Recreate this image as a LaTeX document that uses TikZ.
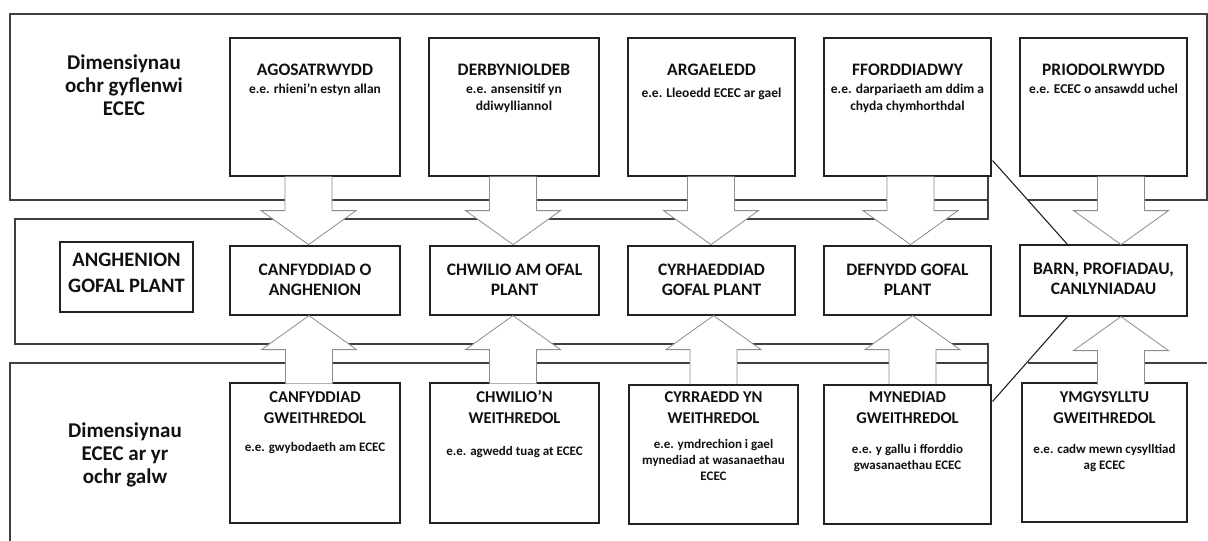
\documentclass[tikz,border=0pt]{standalone}
\usepackage{fontspec}
\setmainfont{Carlito}
\usetikzlibrary{calc}
\definecolor{txt}{HTML}{111111}
\definecolor{bandc}{HTML}{404040}
\definecolor{arrc}{HTML}{8C8C8C}
\definecolor{boxc}{HTML}{222222}
\begin{document}
\begin{tikzpicture}[x=1pt,y=-1pt,
  band/.style={draw=bandc, line width=1.1pt},
  box/.style={draw=boxc, line width=1.2pt, fill=white, inner sep=0pt},
  blockarrow/.style={draw=arrc, fill=white, line width=0.8pt},
  diag/.style={draw=boxc, line width=1.1pt},
  lab/.style={inner sep=0pt, text=txt, align=center, anchor=base, font=\fontsize{21pt}{23pt}\selectfont\bfseries},
  big/.style={inner sep=0pt, text=txt, align=center, anchor=base, font=\fontsize{20.5pt}{26pt}\selectfont\bfseries},
  ttl/.style={inner sep=0pt, text=txt, align=center, anchor=base, font=\fontsize{17.5pt}{20pt}\selectfont\bfseries},
  btl/.style={inner sep=0pt, text=txt, align=center, anchor=base, font=\fontsize{16.5pt}{21pt}\selectfont\bfseries},
  sub/.style={inner sep=0pt, text=txt, align=center, anchor=base, font=\fontsize{13.5pt}{17pt}\selectfont\bfseries},
  bsub/.style={inner sep=0pt, text=txt, align=center, anchor=base, font=\fontsize{13pt}{16pt}\selectfont\bfseries},
  pics/darr/.style={code={\draw[blockarrow] (-23.5,0) -- (-23.5,34) -- (-47.5,34) -- (0,68) -- (47.5,34) -- (23.5,34) -- (23.5,0);}},
  pics/uarr/.style={code={\draw[blockarrow] (-23.5,68) -- (-23.5,34) -- (-47.5,34) -- (0,0) -- (47.5,34) -- (23.5,34) -- (23.5,68);}}
]
\useasboundingbox (0,0) rectangle (1208,541);

% bands
\draw[band] (1028,200) -- (1207,200) -- (1207,14) -- (10,14) -- (10,200) -- (988,200);
\draw[band] (988,176) -- (988,219) -- (15,219) -- (15,344) -- (988,344) -- (988,384);
\draw[band] (10,541) -- (10,363) -- (988,363);
\draw[band] (1028,363) -- (1207,363);

% top boxes
\node[box, minimum width=170pt, minimum height=138pt] (t1) at (315,107) {};
\node[box, minimum width=170pt, minimum height=138pt] (t2) at (514,107) {};
\node[box, minimum width=167pt, minimum height=138pt] (t3) at (711.5,107) {};
\node[box, minimum width=167pt, minimum height=138pt] (t4) at (907.5,107) {};
\node[box, minimum width=167pt, minimum height=138pt] (t5) at (1103.5,107) {};

% middle boxes
\node[box, minimum width=133pt, minimum height=70pt] (m0) at (126.5,277) {};
\node[box, minimum width=170pt, minimum height=69pt] (m1) at (315,280.5) {};
\node[box, minimum width=169pt, minimum height=69pt] (m2) at (514.5,280.5) {};
\node[box, minimum width=167pt, minimum height=69pt] (m3) at (711.5,280.5) {};
\node[box, minimum width=167pt, minimum height=69pt] (m4) at (907.5,280.5) {};
\node[box, minimum width=167pt, minimum height=71pt] (m5) at (1103.5,280.5) {};

% bottom boxes
\node[box, minimum width=170pt, minimum height=140pt] (b1) at (315,453) {};
\node[box, minimum width=169pt, minimum height=140pt] (b2) at (514.5,453) {};
\node[box, minimum width=169pt, minimum height=139pt] (b3) at (713.5,454.5) {};
\node[box, minimum width=167pt, minimum height=139pt] (b4) at (907.5,454.5) {};
\node[box, minimum width=165pt, minimum height=139pt] (b5) at (1104.5,452.5) {};

% block arrows
\pic at ($(t1.south)+(-6.5,0)$) {darr};
\pic at ($(t2.south)+(-1,0)$) {darr};
\pic at ($(t3.south)+(-0.5,0)$) {darr};
\pic at ($(t4.south)+(3,0)$) {darr};
\pic at ($(t5.south)+(17.5,0)$) {darr};
\pic at ($(m1.south)+(-6,0)$) {uarr};
\pic at ($(m2.south)+(-1.5,0)$) {uarr};
\pic at ($(m3.south)+(2,0)$) {uarr};
\pic at ($(m4.south)+(5,0)$) {uarr};
\pic at ($(m5.south)+(17.5,0)$) {uarr};

% diagonal connectors
\coordinate (d1) at ($(t4.south east)+(1,-16)$);
\coordinate (d2) at ($(m5.north west)+(48,0)$);
\coordinate (d3) at ($(m5.south west)+(48,0)$);
\coordinate (d4) at ($(b4.north east)+(1,17)$);
\draw[diag] (d1) -- (d2);
\draw[diag] (d3) -- (d4);

% left labels (anchor base = last line)
\node[lab] (lt) at (124,115) {Dimensiynau\\ochr gyflenwi\\ECEC};
\node[lab] (lb) at (125,483) {Dimensiynau\\ECEC ar yr\\ochr galw};

% top texts
\node[ttl] at ($(t1.north)+(0,38)$) {AGOSATRWYDD};
\node[sub] at ($(t1.north)+(0,56)$) {e.e. rhieni'n estyn allan};
\node[ttl] at ($(t2.north)+(0,38)$) {DERBYNIOLDEB};
\node[sub] at ($(t2.north)+(0,73)$) {e.e. ansensitif yn\\ddiwylliannol};
\node[ttl] at ($(t3.north)+(0,38)$) {ARGAELEDD};
\node[sub] at ($(t3.north)+(0,60)$) {e.e. Lleoedd ECEC ar gael};
\node[ttl] at ($(t4.north)+(0,38)$) {FFORDDIADWY};
\node[sub] at ($(t4.north)+(0,73)$) {e.e. darpariaeth am ddim a\\chyda chymhorthdal};
\node[ttl] at ($(t5.north)+(0,38)$) {PRIODOLRWYDD};
\node[sub] at ($(t5.north)+(0,56)$) {e.e. ECEC o ansawdd uchel};

% middle texts
\node[big] at ($(m0.north)+(0,51)$) {ANGHENION\\GOFAL PLANT};
\node[ttl] at ($(m1.north)+(0,50)$) {CANFYDDIAD O\\ANGHENION};
\node[ttl] at ($(m2.north)+(0,50)$) {CHWILIO AM OFAL\\PLANT};
\node[ttl] at ($(m3.north)+(0,50)$) {CYRHAEDDIAD\\GOFAL PLANT};
\node[ttl] at ($(m4.north)+(0,50)$) {DEFNYDD GOFAL\\PLANT};
\node[ttl] at ($(m5.north)+(0,50)$) {BARN, PROFIADAU,\\CANLYNIADAU};

% bottom texts
\node[btl] at ($(b1.north)+(0,41)$) {CANFYDDIAD\\GWEITHREDOL};
\node[bsub] at ($(b1.north)+(0,69)$) {e.e. gwybodaeth am ECEC};
\node[btl] at ($(b2.north)+(0,41)$) {CHWILIO’N\\WEITHREDOL};
\node[bsub] at ($(b2.north)+(0,73)$) {e.e. agwedd tuag at ECEC};
\node[btl] at ($(b3.north)+(0,39)$) {CYRRAEDD YN\\WEITHREDOL};
\node[bsub] at ($(b3.north)+(0,96)$) {e.e. ymdrechion i gael\\mynediad at wasanaethau\\ECEC};
\node[btl] at ($(b4.north)+(0,39)$) {MYNEDIAD\\GWEITHREDOL};
\node[bsub] at ($(b4.north)+(0,85)$) {e.e. y gallu i fforddio\\gwasanaethau ECEC};
\node[btl] at ($(b5.north)+(0,41)$) {YMGYSYLLTU\\GWEITHREDOL};
\node[bsub] at ($(b5.north)+(0,87)$) {e.e. cadw mewn cysylltiad\\ag ECEC};
\end{tikzpicture}
\end{document}
